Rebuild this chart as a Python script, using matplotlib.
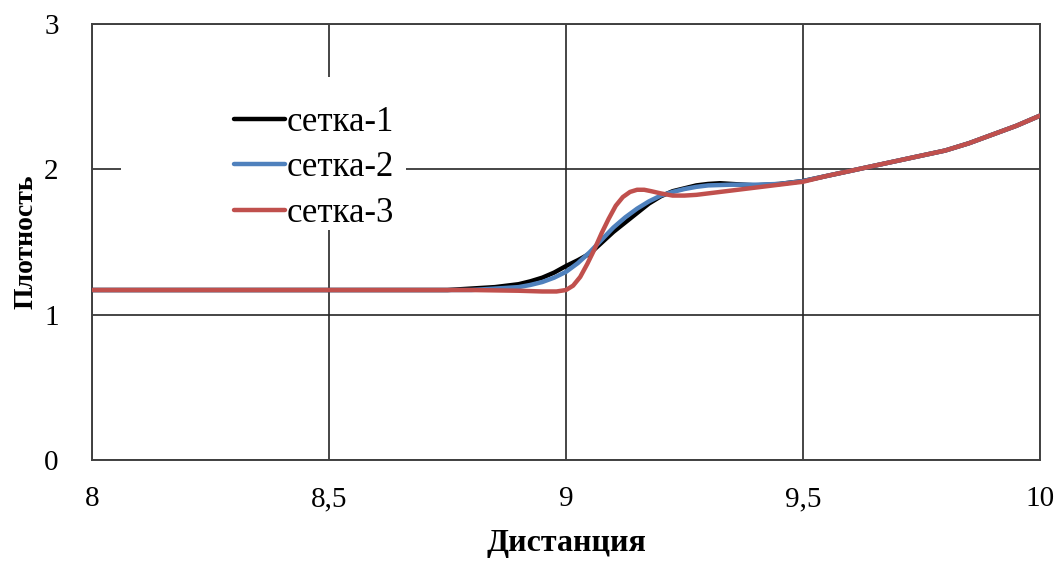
import matplotlib.pyplot as plt
from matplotlib.patches import Rectangle

plt.rcParams['font.family'] = ['Liberation Serif', 'DejaVu Serif']

# common tail (x >= 9.5)
x_tail = [9.55, 9.6, 9.65, 9.7, 9.75, 9.8, 9.85, 9.9, 9.95, 10.0]
y_tail = [1.955, 1.99, 2.025, 2.06, 2.095, 2.13, 2.18, 2.24, 2.30, 2.37]

x1 = [8.0, 8.5, 8.75, 8.8, 8.85, 8.9, 8.925, 8.95, 8.975, 9.0, 9.025, 9.05, 9.075,
      9.1, 9.125, 9.15, 9.175, 9.2, 9.225, 9.25, 9.275, 9.3, 9.325, 9.35, 9.4,
      9.45, 9.5] + x_tail
y1 = [1.17, 1.17, 1.17, 1.18, 1.19, 1.21, 1.23, 1.255, 1.29, 1.335, 1.375, 1.42, 1.495,
      1.57, 1.635, 1.70, 1.765, 1.815, 1.85, 1.87, 1.89, 1.90, 1.905, 1.90, 1.89,
      1.90, 1.92] + y_tail

x2 = [8.0, 8.5, 8.8, 8.85, 8.9, 8.925, 8.95, 8.975, 9.0, 9.025, 9.05, 9.075,
      9.1, 9.125, 9.15, 9.175, 9.2, 9.225, 9.25, 9.275, 9.3, 9.35, 9.4,
      9.45, 9.5] + x_tail
y2 = [1.17, 1.17, 1.17, 1.18, 1.19, 1.205, 1.225, 1.255, 1.295, 1.355, 1.43, 1.515,
      1.60, 1.67, 1.73, 1.78, 1.82, 1.845, 1.865, 1.88, 1.89, 1.895, 1.895,
      1.90, 1.92] + y_tail

x3 = [8.0, 8.5, 8.8, 8.9, 8.95, 8.98, 9.0, 9.015, 9.03, 9.045, 9.06, 9.075, 9.09,
      9.105, 9.12, 9.135, 9.15, 9.165, 9.18, 9.2, 9.225, 9.25, 9.275, 9.3, 9.35,
      9.4, 9.45, 9.5] + x_tail
y3 = [1.17, 1.17, 1.17, 1.165, 1.16, 1.16, 1.17, 1.20, 1.26, 1.35, 1.45, 1.56, 1.66,
      1.75, 1.81, 1.845, 1.86, 1.86, 1.85, 1.835, 1.82, 1.82, 1.825, 1.835, 1.855,
      1.875, 1.895, 1.915] + y_tail

labels = ['сетка-1', 'сетка-2', 'сетка-3']
colors = ['#000000', '#4F81BD', '#C0504D']
xticks = [8, 8.5, 9, 9.5, 10]
xtick_labels = ['8', '8,5', '9', '9,5', '10']
yticks = [0, 1, 2, 3]

fig = plt.figure(figsize=(10.6, 5.61), dpi=100)
ax = fig.add_axes([0.0868, 0.18, 0.8943, 0.777])

for xs, ys, lab, c in zip([x1, x2, x3], [y1, y2, y3], labels, colors):
    ax.plot(xs, ys, color=c, lw=3.2, label=lab, zorder=3, solid_capstyle='round')

ax.set_xlim(8, 10)
ax.set_ylim(0, 3)
ax.set_xticks(xticks)
ax.set_xticklabels(xtick_labels)
ax.set_yticks(yticks)
ax.tick_params(axis='x', length=0, pad=19, labelsize=21)
ax.tick_params(axis='y', length=0, pad=24, labelsize=21)
ax.grid(True, color='#262626', lw=1.2, zorder=1)
ax.set_axisbelow(True)
for s in ax.spines.values():
    s.set_color('#404040')
    s.set_linewidth(1.4)

# white legend background hiding gridlines
ax.add_patch(Rectangle((0.031, 0.528), 0.30, 0.35, transform=ax.transAxes,
                       facecolor='white', edgecolor='none', zorder=2))
leg = ax.legend(loc='upper left', bbox_to_anchor=(0.132, 0.852), frameon=False,
                fontsize=25, handlelength=1.45, handletextpad=0.05,
                labelspacing=0.36, borderpad=0)

ax.set_xlabel('Дистанция', fontsize=23, fontweight='bold', labelpad=12)
ax.set_ylabel('Плотность', fontsize=20, fontweight='bold', labelpad=4)

fig.savefig('out.png', dpi=100)
